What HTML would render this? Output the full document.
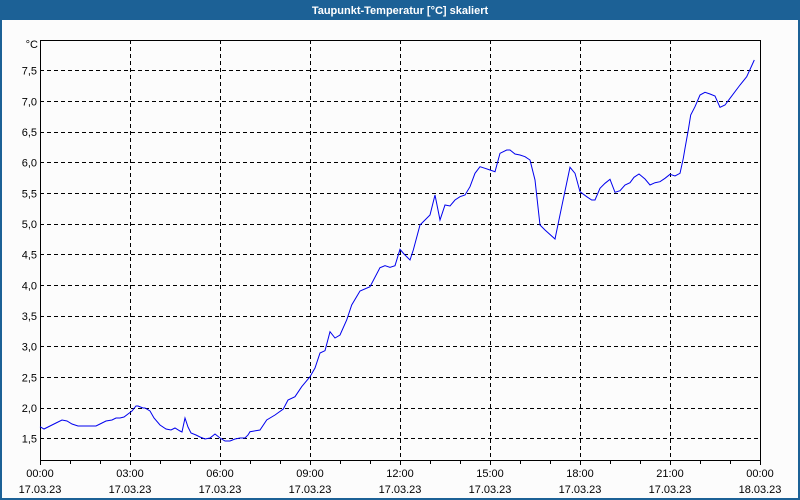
<!DOCTYPE html>
<html><head><meta charset="utf-8"><style>
html,body{margin:0;padding:0;background:#fff;}
body{width:800px;height:500px;overflow:hidden;position:relative;font-family:"Liberation Sans",sans-serif;}
</style></head><body>
<svg width="800" height="500" xmlns="http://www.w3.org/2000/svg" style="position:absolute;left:0;top:0">
<rect x="0" y="0" width="800" height="500" fill="#1c6196"/>
<rect x="2" y="20" width="796" height="478" fill="#fcfcfc"/>
<text x="400" y="14" fill="#fff" font-size="11" font-weight="bold" text-anchor="middle" font-family="Liberation Sans, sans-serif">Taupunkt-Temperatur [°C] skaliert</text>
<g stroke="#000" stroke-width="1" stroke-dasharray="4,3" fill="none" shape-rendering="crispEdges">
<line x1="40" y1="70.5" x2="760" y2="70.5"/>
<line x1="40" y1="101.5" x2="760" y2="101.5"/>
<line x1="40" y1="132.5" x2="760" y2="132.5"/>
<line x1="40" y1="162.5" x2="760" y2="162.5"/>
<line x1="40" y1="193.5" x2="760" y2="193.5"/>
<line x1="40" y1="224.5" x2="760" y2="224.5"/>
<line x1="40" y1="254.5" x2="760" y2="254.5"/>
<line x1="40" y1="285.5" x2="760" y2="285.5"/>
<line x1="40" y1="316.5" x2="760" y2="316.5"/>
<line x1="40" y1="346.5" x2="760" y2="346.5"/>
<line x1="40" y1="377.5" x2="760" y2="377.5"/>
<line x1="40" y1="408.5" x2="760" y2="408.5"/>
<line x1="40" y1="438.5" x2="760" y2="438.5"/>
<line x1="130.5" y1="40" x2="130.5" y2="460"/>
<line x1="220.5" y1="40" x2="220.5" y2="460"/>
<line x1="310.5" y1="40" x2="310.5" y2="460"/>
<line x1="400.5" y1="40" x2="400.5" y2="460"/>
<line x1="490.5" y1="40" x2="490.5" y2="460"/>
<line x1="580.5" y1="40" x2="580.5" y2="460"/>
<line x1="670.5" y1="40" x2="670.5" y2="460"/>
</g>
<rect x="40.5" y="40.5" width="720" height="420" fill="none" stroke="#000" stroke-width="1" shape-rendering="crispEdges"/>
<g stroke="#000" stroke-width="1" shape-rendering="crispEdges">
<line x1="40.5" y1="460" x2="40.5" y2="465"/><line x1="70.5" y1="460" x2="70.5" y2="464"/><line x1="100.5" y1="460" x2="100.5" y2="464"/><line x1="130.5" y1="460" x2="130.5" y2="465"/><line x1="160.5" y1="460" x2="160.5" y2="464"/><line x1="190.5" y1="460" x2="190.5" y2="464"/><line x1="220.5" y1="460" x2="220.5" y2="465"/><line x1="250.5" y1="460" x2="250.5" y2="464"/><line x1="280.5" y1="460" x2="280.5" y2="464"/><line x1="310.5" y1="460" x2="310.5" y2="465"/><line x1="340.5" y1="460" x2="340.5" y2="464"/><line x1="370.5" y1="460" x2="370.5" y2="464"/><line x1="400.5" y1="460" x2="400.5" y2="465"/><line x1="430.5" y1="460" x2="430.5" y2="464"/><line x1="460.5" y1="460" x2="460.5" y2="464"/><line x1="490.5" y1="460" x2="490.5" y2="465"/><line x1="520.5" y1="460" x2="520.5" y2="464"/><line x1="550.5" y1="460" x2="550.5" y2="464"/><line x1="580.5" y1="460" x2="580.5" y2="465"/><line x1="610.5" y1="460" x2="610.5" y2="464"/><line x1="640.5" y1="460" x2="640.5" y2="464"/><line x1="670.5" y1="460" x2="670.5" y2="465"/><line x1="700.5" y1="460" x2="700.5" y2="464"/><line x1="730.5" y1="460" x2="730.5" y2="464"/><line x1="760.5" y1="460" x2="760.5" y2="465"/>
</g>
<g font-size="11" fill="#000" text-anchor="end" font-family="Liberation Sans, sans-serif">
<text x="38" y="48">°C</text>
<text x="37" y="74.5">7,5</text><text x="37" y="105.5">7,0</text><text x="37" y="136">6,5</text><text x="37" y="166.5">6,0</text><text x="37" y="197.5">5,5</text><text x="37" y="228">5,0</text><text x="37" y="258.5">4,5</text><text x="37" y="289.5">4,0</text><text x="37" y="320">3,5</text><text x="37" y="350.5">3,0</text><text x="37" y="381.5">2,5</text><text x="37" y="412">2,0</text><text x="37" y="442.5">1,5</text>
</g>
<g font-size="11" fill="#000" text-anchor="middle" font-family="Liberation Sans, sans-serif">
<text x="40" y="477">00:00</text><text x="40" y="493">17.03.23</text>
<text x="130" y="477">03:00</text><text x="130" y="493">17.03.23</text>
<text x="220" y="477">06:00</text><text x="220" y="493">17.03.23</text>
<text x="310" y="477">09:00</text><text x="310" y="493">17.03.23</text>
<text x="400" y="477">12:00</text><text x="400" y="493">17.03.23</text>
<text x="490" y="477">15:00</text><text x="490" y="493">17.03.23</text>
<text x="580" y="477">18:00</text><text x="580" y="493">17.03.23</text>
<text x="670" y="477">21:00</text><text x="670" y="493">17.03.23</text>
<text x="760" y="477">00:00</text><text x="760" y="493">18.03.23</text>
</g>
<polyline fill="none" stroke="#0000ee" stroke-width="1" points="40,426.7 44,429 50,426 56,423 62,420 67,421 72,424 78,426 90,426 96,426 100,424 106,421 112,420 116,418 120,418 124,417 128,414 132,411 136,406 138,406 143,408 145,408 150,411 154,418 160,425 166,429 171,430 175,428 180,431 182,432 185,418 188,427 191,433 196,435 200,437 205,439 210,438 215,434 220,438 225,441 230,441 235,439 240,438 245,438 248,435 250,431.7 260,430 266.7,420 275,415 283.3,409 288,400 295,396.7 301.7,386.7 310,376.7 315,368 320,353 325,350.7 330,331.7 335,338 340,335 346.7,320 351.7,305 360,291 370,286.7 380,267.7 385,265.7 390,267.3 395,265.7 400,249.3 404,254 410,260 413.3,250 420,225 425,220 430,215 435,195 440,220 445,205 450,206 455,200 460,196.7 465,195 470,186.7 475,173.3 480,166.7 485,168.3 490,170 495,171.7 500,153.3 506.7,150 510,150 515,154 520,155 525,156.7 530,160 535,180 540,225 545,230 555,239 561.7,206.7 570,167.3 575,173.3 580,191.7 586.7,196.7 591.7,200 595,200 600,188.3 605,183.3 610,179.3 615,192.3 620,190.7 625,185 630,182.7 634,177.3 639,174 645,179 650,185 655,182.7 660,181.7 665,178.3 670,174.3 675,176 680,173.3 683.3,158.3 685,148.3 688.3,130 690.7,115 695,106.7 700,95 705,92.3 710,94 715,96 720,107.3 725,105 730,98.3 740,85 746.7,76.7 754.3,60"/>
</svg>
</body></html>
